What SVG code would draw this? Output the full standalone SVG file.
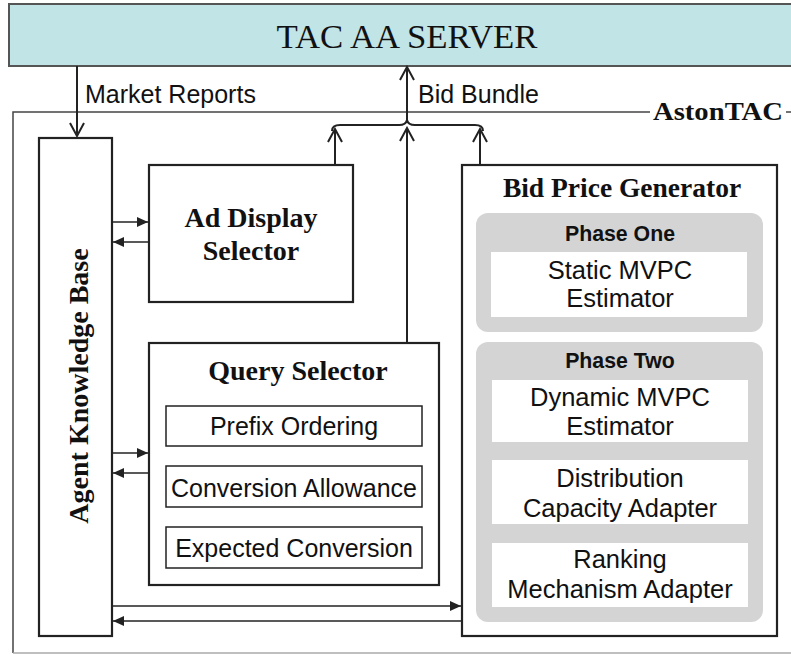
<svg xmlns="http://www.w3.org/2000/svg" width="791" height="654" viewBox="0 0 791 654">
<style>
.box{fill:#fff;stroke:#222;stroke-width:2.2}
.sub{fill:#fff;stroke:#222;stroke-width:1.5}
.gray{fill:#d4d4d4;stroke:none}
.wbox{fill:#fff;stroke:none}
.serif{font-family:"Liberation Serif","Times New Roman",serif;font-weight:bold;fill:#111}
.sans{font-family:"Liberation Sans",Arial,sans-serif;fill:#111}
.conn{fill:none;stroke:#222;stroke-width:1.5}
.vconn{fill:none;stroke:#222;stroke-width:2}
</style>
<defs>
<marker id="tri" markerUnits="userSpaceOnUse" markerWidth="12" markerHeight="10" refX="11" refY="5" orient="auto">
<path d="M0,0 L11,5 L0,10 Z" fill="#222"/>
</marker>
<marker id="chev" markerUnits="userSpaceOnUse" markerWidth="16" markerHeight="18" refX="14" refY="8" orient="auto">
<path d="M1,1 L14,8 L1,15" fill="none" stroke="#222" stroke-width="2"/>
</marker>
</defs>
<rect width="791" height="654" fill="#fff"/>

<g id="server">
<rect x="9" y="4" width="800" height="62" fill="#c1e4e6" stroke="#555" stroke-width="2"/>
<text x="407" y="48" text-anchor="middle" font-family="Liberation Serif,Times New Roman,serif" font-size="34" fill="#111" textLength="261" lengthAdjust="spacingAndGlyphs">TAC AA SERVER</text>
</g>

<g id="astontac">
<path d="M13,653 L13,112 L650,112" fill="none" stroke="#444" stroke-width="1.5"/>
<path d="M13,653 L791,653" fill="none" stroke="#aaa" stroke-width="1.5"/>
<path d="M786,112 L791,112" fill="none" stroke="#444" stroke-width="1.5"/>
<text x="653" y="120" class="serif" font-size="25" textLength="130" lengthAdjust="spacingAndGlyphs">AstonTAC</text>
</g>

<g id="knowledge-base">
<rect x="39" y="138" width="73" height="498" class="box"/>
<text class="serif" font-size="28" text-anchor="middle" transform="translate(88,386) rotate(-90)">Agent Knowledge Base</text>
</g>

<g id="ad-display-selector">
<rect x="149" y="165" width="204" height="137" class="box"/>
<text x="251" y="227" class="serif" font-size="28" text-anchor="middle">Ad Display</text>
<text x="251" y="260" class="serif" font-size="28" text-anchor="middle">Selector</text>
</g>

<g id="query-selector">
<rect x="149" y="343" width="290" height="242" class="box"/>
<text x="298" y="380" class="serif" font-size="28" text-anchor="middle">Query Selector</text>
<rect x="166" y="406" width="256" height="40" class="sub"/>
<text x="294" y="435" class="sans" font-size="25" text-anchor="middle">Prefix Ordering</text>
<rect x="166" y="466" width="256" height="41" class="sub"/>
<text x="294" y="497" class="sans" font-size="25" text-anchor="middle">Conversion Allowance</text>
<rect x="166" y="527" width="256" height="41" class="sub"/>
<text x="294" y="557" class="sans" font-size="25" text-anchor="middle">Expected Conversion</text>
</g>

<g id="bid-price-generator">
<rect x="462" y="165" width="315" height="471" class="box"/>
<text x="622" y="197" class="serif" font-size="27.5" text-anchor="middle">Bid Price Generator</text>
<g id="phase-one">
<rect x="476" y="213" width="287" height="119" rx="12" class="gray"/>
<text x="620" y="241" class="sans" font-size="21.3" font-weight="bold" text-anchor="middle">Phase One</text>
<rect x="491" y="252" width="256" height="65" class="wbox"/>
<text x="620" y="279" class="sans" font-size="25.5" text-anchor="middle">Static MVPC</text>
<text x="620" y="307" class="sans" font-size="25.5" text-anchor="middle">Estimator</text>
</g>
<g id="phase-two">
<rect x="476" y="342" width="287" height="280" rx="12" class="gray"/>
<text x="620" y="368" class="sans" font-size="21.3" font-weight="bold" text-anchor="middle">Phase Two</text>
<rect x="492" y="380" width="256" height="62" class="wbox"/>
<text x="620" y="406" class="sans" font-size="25.5" text-anchor="middle">Dynamic MVPC</text>
<text x="620" y="435" class="sans" font-size="25.5" text-anchor="middle">Estimator</text>
<rect x="492" y="460" width="256" height="64" class="wbox"/>
<text x="620" y="487" class="sans" font-size="25.5" text-anchor="middle">Distribution</text>
<text x="620" y="517" class="sans" font-size="25.5" text-anchor="middle">Capacity Adapter</text>
<rect x="492" y="543" width="256" height="64" class="wbox"/>
<text x="620" y="568" class="sans" font-size="25.5" text-anchor="middle">Ranking</text>
<text x="620" y="598" class="sans" font-size="25.5" text-anchor="middle">Mechanism Adapter</text>
</g>
</g>

<g id="connectors">
<line x1="77" y1="66" x2="77" y2="136" class="vconn" marker-end="url(#chev)"/>
<text x="85" y="103" class="sans" font-size="25">Market Reports</text>
<line x1="407" y1="121" x2="407" y2="67" class="vconn" marker-end="url(#chev)"/>
<text x="418" y="103" class="sans" font-size="25">Bid Bundle</text>
<path d="M332,131 Q332,125 340,125 L399,125 Q406,125 407,120 Q408,125 415,125 L475,125 Q483,125 483,131" class="vconn"/>
<line x1="335" y1="165" x2="335" y2="129" class="vconn" marker-end="url(#chev)"/>
<line x1="407" y1="343" x2="407" y2="128" class="vconn" marker-end="url(#chev)"/>
<line x1="480" y1="165" x2="480" y2="129" class="vconn" marker-end="url(#chev)"/>
<line x1="112" y1="222" x2="148" y2="222" class="conn" marker-end="url(#tri)"/>
<line x1="148" y1="242" x2="113" y2="242" class="conn" marker-end="url(#tri)"/>
<line x1="112" y1="453" x2="148" y2="453" class="conn" marker-end="url(#tri)"/>
<line x1="148" y1="473" x2="113" y2="473" class="conn" marker-end="url(#tri)"/>
<line x1="112" y1="606" x2="461" y2="606" class="conn" marker-end="url(#tri)"/>
<line x1="461" y1="621" x2="113" y2="621" class="conn" marker-end="url(#tri)"/>
</g>
</svg>
